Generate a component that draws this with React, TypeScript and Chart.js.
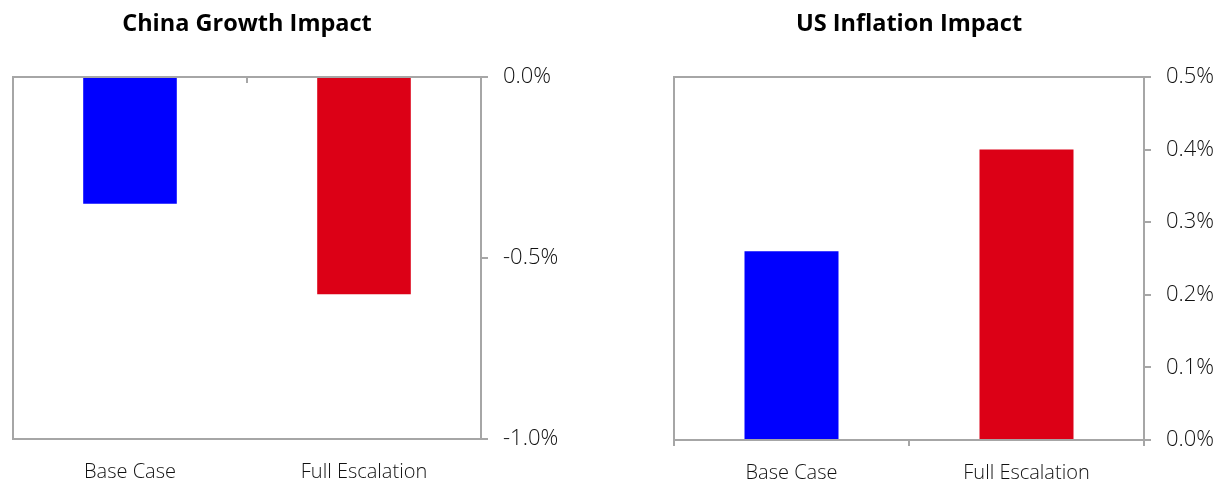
import { useEffect, useRef } from "react";
import { Chart, registerables } from "chart.js";

Chart.register(...registerables);

// Scenario categories shared by both panels
const categories = ["Base Case", "Full Escalation"];

// China growth impact (percentage points)
const chinaGrowthImpact = [-0.35, -0.6];
const chinaTickValues = [-1.0, -0.5, 0.0];

// US inflation impact (percentage points)
const usInflationImpact = [0.26, 0.4];
const usTickValues = [0.0, 0.1, 0.2, 0.3, 0.4, 0.5];

const barColors = ["#0000FF", "#DC0016"];

const FONT = "'Open Sans', 'DejaVu Sans', sans-serif";
const AXIS_COLOR = "#A6A6A6";
const TEXT_COLOR = "#111111";

type PanelProps = {
  title: string;
  values: number[];
  tickValues: number[];
  left: number;
  width: number;
  area: { left: number; right: number; top: number; bottom: number };
};

// Plot-area border plus category tick marks hanging from the zero line
const framePlugin = {
  id: "panelFrame",
  beforeDatasetsDraw(chart: any) {
    const { ctx, chartArea: a, scales } = chart;
    const xs = scales.x;
    const y0 = scales.y.getPixelForValue(0);
    ctx.save();
    ctx.strokeStyle = AXIS_COLOR;
    ctx.lineWidth = 2;
    ctx.strokeRect(a.left, a.top, a.right - a.left, a.bottom - a.top);
    const n = xs.ticks.length;
    ctx.beginPath();
    for (let i = 0; i <= n; i++) {
      const px =
        i === 0
          ? a.left
          : i === n
          ? a.right
          : (xs.getPixelForValue(i - 1) + xs.getPixelForValue(i)) / 2;
      ctx.moveTo(px, y0);
      ctx.lineTo(px, y0 + 6);
    }
    ctx.stroke();
    ctx.restore();
  },
};

// Panel heading centred over the plot area
const headingPlugin = {
  id: "panelHeading",
  afterDraw(chart: any, _args: any, opts: any) {
    const { ctx, chartArea: a } = chart;
    ctx.save();
    ctx.font = `bold 23.5px ${FONT}`;
    ctx.fillStyle = "#000000";
    ctx.textAlign = "center";
    ctx.textBaseline = "middle";
    ctx.fillText(opts.text, (a.left + a.right) / 2, 24);
    ctx.restore();
  },
};

function Panel({ title, values, tickValues, left, width, area }: PanelProps) {
  const ref = useRef<HTMLCanvasElement | null>(null);

  useEffect(() => {
    if (!ref.current) return;
    const height = 482;
    const chart = new Chart(ref.current, {
      type: "bar",
      data: {
        labels: categories,
        datasets: [
          {
            data: values,
            backgroundColor: barColors,
            borderWidth: 0,
            categoryPercentage: 1,
            barPercentage: 0.4,
          },
        ],
      },
      plugins: [framePlugin, headingPlugin],
      options: {
        responsive: false,
        animation: false,
        devicePixelRatio: 1,
        layout: { padding: { left: area.left, top: area.top, right: 0, bottom: 0 } },
        plugins: {
          legend: { display: false },
          tooltip: { enabled: false },
          panelHeading: { text: title },
        } as any,
        scales: {
          x: {
            position: "bottom",
            grid: { display: false },
            border: { display: false },
            ticks: {
              color: TEXT_COLOR,
              font: { family: FONT, size: 20, weight: 300 as any },
              padding: 13,
              maxRotation: 0,
            },
            afterFit: (s: any) => {
              s.height = height - area.bottom;
            },
          },
          y: {
            position: "right",
            min: tickValues[0],
            max: tickValues[tickValues.length - 1],
            afterBuildTicks: (s: any) => {
              s.ticks = tickValues.map((v) => ({ value: v }));
            },
            grid: {
              display: true,
              drawOnChartArea: false,
              drawTicks: true,
              tickLength: 7,
              color: AXIS_COLOR,
              lineWidth: 2,
            },
            border: { display: true, color: AXIS_COLOR, width: 2 },
            ticks: {
              color: TEXT_COLOR,
              font: { family: FONT, size: 22, weight: 300 as any },
              padding: 15,
              callback: (v: any) => `${Number(v).toFixed(1)}%`,
            },
            afterFit: (s: any) => {
              s.width = width - area.right;
            },
          },
        },
      },
    });
    return () => chart.destroy();
  }, [title, values, tickValues, width, area]);

  return (
    <canvas
      ref={ref}
      width={width}
      height={482}
      style={{ position: "absolute", left, top: 0, width, height: 482 }}
    />
  );
}

const leftArea = { left: 13, right: 481, top: 77, bottom: 439 };
const rightArea = { left: 64, right: 534, top: 77, bottom: 440 };

export default function App() {
  return (
    <div
      style={{
        position: "absolute",
        left: 0,
        top: 0,
        width: 1220,
        height: 482,
        background: "#FFFFFF",
      }}
    >
      <Panel
        title="China Growth Impact"
        values={chinaGrowthImpact}
        tickValues={chinaTickValues}
        left={0}
        width={610}
        area={leftArea}
      />
      <Panel
        title="US Inflation Impact"
        values={usInflationImpact}
        tickValues={usTickValues}
        left={610}
        width={610}
        area={rightArea}
      />
    </div>
  );
}
